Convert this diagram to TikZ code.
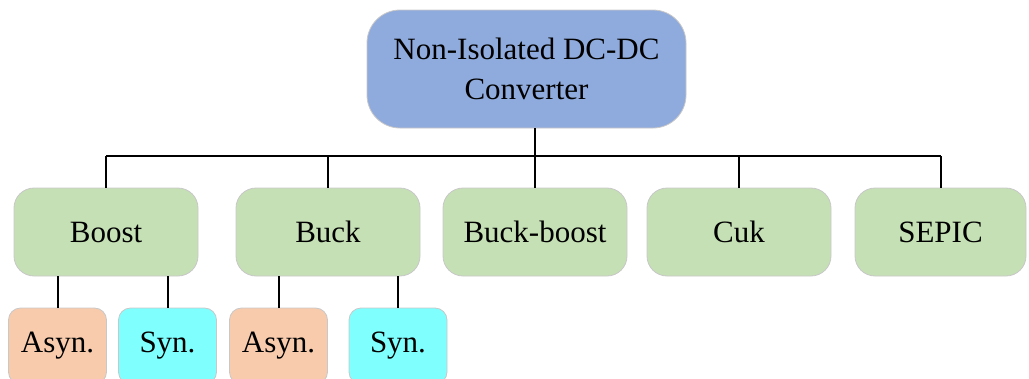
\documentclass[tikz,border=0pt]{standalone}
\usepackage{fontspec}
\setmainfont{Liberation Serif}
\definecolor{topblue}{HTML}{8FAADC}
\definecolor{midgreen}{HTML}{C5E0B4}
\definecolor{asynorange}{HTML}{F8CBAD}
\definecolor{syncyan}{HTML}{80FFFF}
\definecolor{edgegray}{HTML}{C8C8C8}
\begin{document}
\begin{tikzpicture}[x=1pt,y=-1pt,
  box/.style={draw=edgegray, line width=0.8pt, inner sep=0pt, align=center,
    font=\fontsize{31}{40}\selectfont},
  topbox/.style={box, fill=topblue, minimum width=319pt, minimum height=118pt, rounded corners=33pt},
  midbox/.style={box, fill=midgreen, minimum width=184pt, minimum height=88pt, rounded corners=20pt},
  asynbox/.style={box, fill=asynorange, minimum width=98pt, minimum height=76pt, rounded corners=12pt},
  synbox/.style={box, fill=syncyan, minimum width=98pt, minimum height=76pt, rounded corners=12pt},
  link/.style={line width=2pt, black}]
\useasboundingbox (0,0) rectangle (1029,378);
\clip (0,0) rectangle (1029,378);
\node[topbox] (top) at (526.5,69) {Non-Isolated DC-DC\\Converter};
\node[midbox] (boost) at (106,232) {Boost};
\node[midbox] (buck) at (328,232) {Buck};
\node[midbox] (bb) at (535,232) {Buck-boost};
\node[midbox] (cuk) at (739,232) {Cuk};
\node[midbox, minimum width=171pt] (sepic) at (940.5,232) {SEPIC};
\node[asynbox] (a1) at (57.5,346) {Asyn.};
\node[synbox] (s1) at (167.5,346) {Syn.};
\node[asynbox] (a2) at (278.5,346) {Asyn.};
\node[synbox] (s2) at (398,346) {Syn.};
\coordinate (busl) at (106,156);
\draw[link] (top.south -| bb.north) -- (bb.north);
\draw[link] (boost.north |- busl) -- (sepic.north |- busl);
\foreach \n in {boost,buck,cuk,sepic}
  \draw[link] (\n.north |- busl) -- (\n.north);
\draw[link] (a1.north |- boost.south) -- (a1.north);
\draw[link] (s1.north |- boost.south) -- (s1.north);
\draw[link] (a2.north |- buck.south) -- (a2.north);
\draw[link] (s2.north |- buck.south) -- (s2.north);
\end{tikzpicture}
\end{document}
